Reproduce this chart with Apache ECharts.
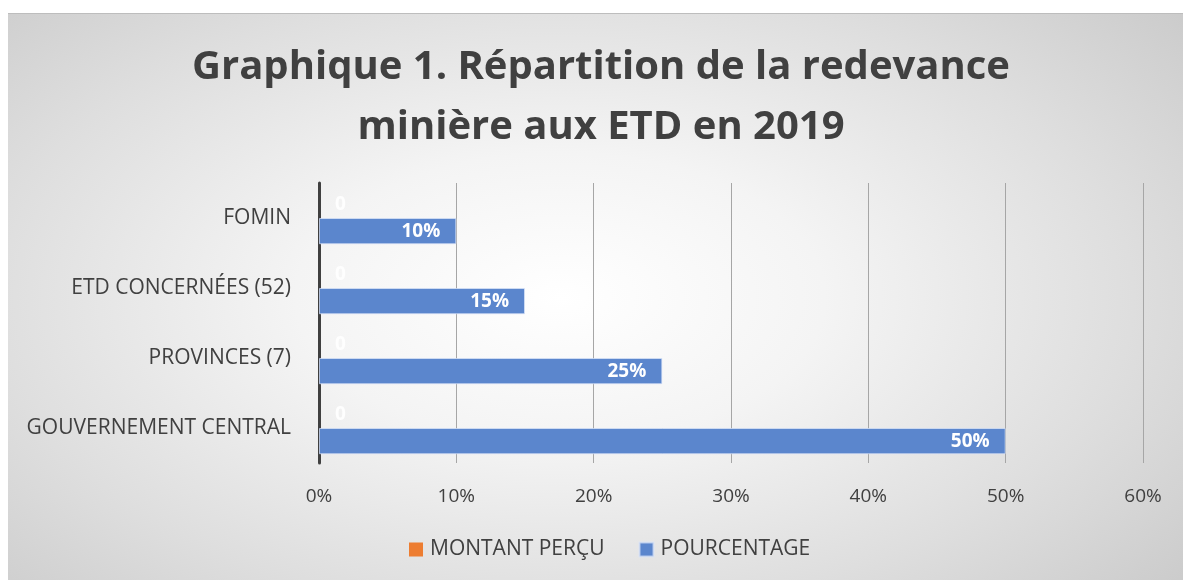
<!DOCTYPE html>
<html>
<head>
<meta charset="utf-8">
<script src="https://cdn.jsdelivr.net/npm/echarts@6/dist/echarts.min.js"></script>
<style>
  html, body { margin: 0; padding: 0; background: #fff; }
  #bg {
    position: absolute; left: 8px; top: 13px; width: 1175px; height: 567px;
    border-top: 1px solid #bdbdbd;
    background: radial-gradient(ellipse 75% 85% at 47% 50%, #ffffff 0%, #f4f4f4 30%, #dedede 65%, #c6c6c6 100%);
  }
  #chart { position: absolute; left: 0; top: 0; width: 1183px; height: 580px; }
</style>
</head>
<body>
<div id="bg"></div>
<div id="chart"></div>
<script>
// catégories, de bas en haut
var categories = ['GOUVERNEMENT CENTRAL', 'PROVINCES (7)', 'ETD CONCERNÉES (52)', 'FOMIN'];
var montantPercu = [0, 0, 0, 0];
var pourcentage = [50, 25, 15, 10];
var xTicks = { min: 0, max: 60, interval: 10 };

var font = '"Open Sans", "Noto Sans", sans-serif';
var myChart = echarts.init(document.getElementById('chart'));

var option = {
  backgroundColor: 'transparent',
  textStyle: { fontFamily: font },
  title: {
    text: 'Graphique 1. Répartition de la redevance\nminière aux ETD en 2019',
    left: 596,
    textAlign: 'center',
    top: 33,
    textStyle: {
      fontFamily: font,
      fontSize: 40,
      fontWeight: 'bold',
      color: '#404040',
      lineHeight: 60
    }
  },
  legend: {
    data: ['MONTANT PERÇU', 'POURCENTAGE'],
    bottom: 15,
    left: 404,
    icon: 'rect',
    itemWidth: 14,
    itemHeight: 14,
    itemGap: 34,
    textStyle: { fontSize: 21, color: '#404040', fontFamily: font, padding: [0, 0, 0, 2] }
  },
  grid: {
    left: 319,
    right: 40,
    top: 183,
    bottom: 117,
    containLabel: false
  },
  xAxis: {
    type: 'value',
    min: xTicks.min,
    max: xTicks.max,
    interval: xTicks.interval,
    axisLine: { show: false },
    axisTick: { show: false },
    axisLabel: {
      formatter: '{value}%',
      fontSize: 19,
      color: '#404040',
      margin: 24,
      fontFamily: font
    },
    splitLine: { show: true, lineStyle: { color: '#a6a6a6', width: 1 } }
  },
  yAxis: {
    type: 'category',
    data: categories,
    axisLine: { show: true, lineStyle: { color: '#404040', width: 3 } },
    axisTick: { show: false },
    axisLabel: {
      fontSize: 21,
      color: '#404040',
      margin: 28,
      fontFamily: font
    }
  },
  series: [
    {
      name: 'MONTANT PERÇU',
      type: 'bar',
      data: montantPercu,
      barGap: '0%',
      barCategoryGap: '25%',
      itemStyle: { color: '#ed7d31' },
      label: {
        show: true,
        position: 'right',
        distance: 16,
        color: 'rgba(255,255,255,0.9)',
        fontWeight: 'bold',
        fontSize: 19,
        fontFamily: font
      }
    },
    {
      name: 'POURCENTAGE',
      type: 'bar',
      data: pourcentage,
      barGap: '0%',
      barCategoryGap: '25%',
      itemStyle: { color: '#5b86cd', borderColor: 'rgba(220,230,250,0.7)', borderWidth: 1 },
      label: {
        show: true,
        position: 'insideRight',
        distance: 16,
        formatter: '{c}%',
        color: '#ffffff',
        fontWeight: 'bold',
        fontSize: 19,
        fontFamily: font
      }
    }
  ]
};
myChart.setOption(option);
</script>
</body>
</html>
